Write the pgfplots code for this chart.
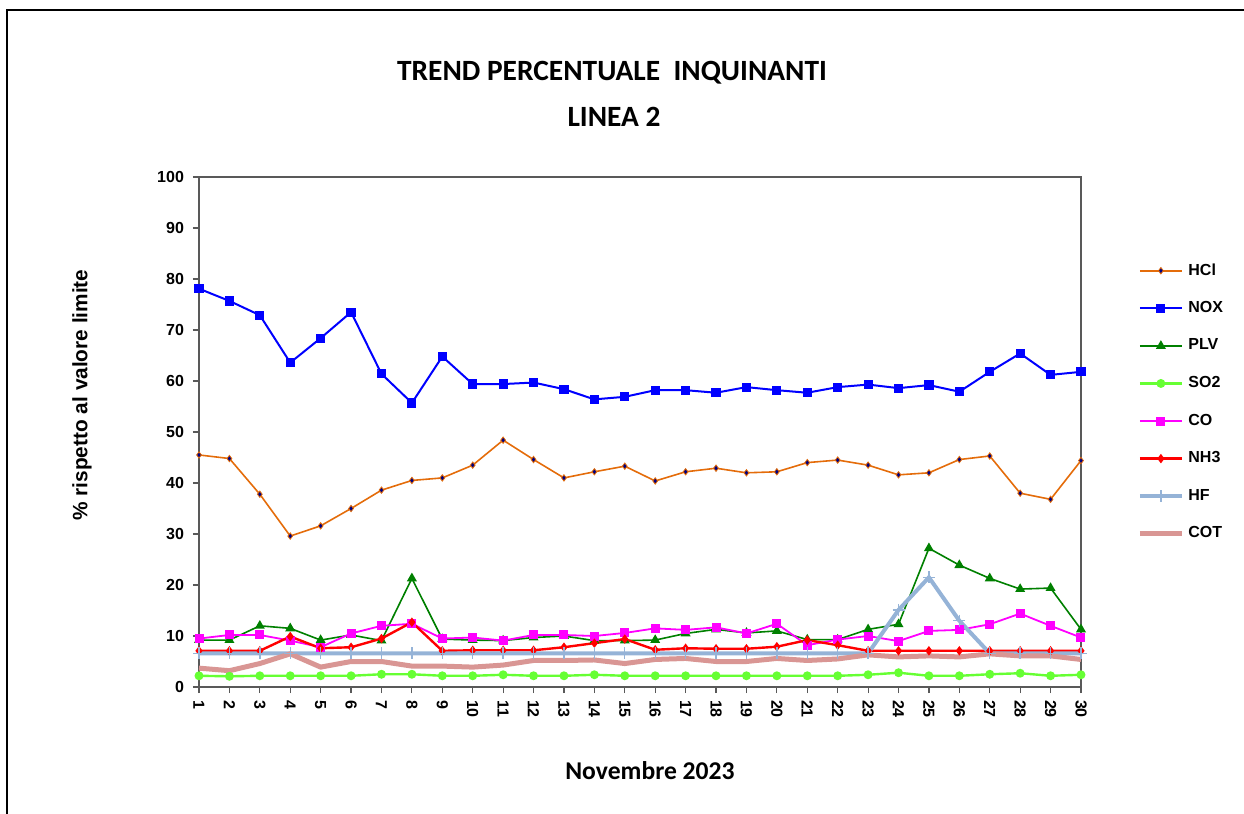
\documentclass[border=0pt]{standalone}
\usepackage{pgfplots}
\pgfplotsset{compat=1.18}
\usepackage{pgfplotstable}
\usepackage{fontspec}
\setmainfont{Liberation Sans}
\newfontfamily\calibri{Carlito}
\definecolor{cHCl}{RGB}{228,108,10}
\definecolor{cNOX}{RGB}{0,0,255}
\definecolor{cPLV}{RGB}{0,128,0}
\definecolor{cSO2}{RGB}{102,255,51}
\definecolor{cCO}{RGB}{255,0,255}
\definecolor{cNH3}{RGB}{255,0,0}
\definecolor{cHF}{RGB}{149,179,215}
\definecolor{cCOT}{RGB}{217,150,148}
\definecolor{navy}{RGB}{0,0,128}
\pgfplotstableread{
x hcl nox plv so2 co nh3 hf cot
1 45.5 78.1 9.2 2.2 9.5 7.1 6.6 3.7
2 44.8 75.7 9.2 2.1 10.2 7.1 6.6 3.2
3 37.8 72.9 12.0 2.2 10.2 7.1 6.6 4.6
4 29.6 63.6 11.5 2.2 9.1 9.9 6.6 6.5
5 31.6 68.4 9.2 2.2 7.8 7.6 6.6 3.9
6 35.0 73.5 10.2 2.2 10.5 7.8 6.6 5.0
7 38.6 61.4 9.1 2.5 12.0 9.5 6.6 5.0
8 40.5 55.7 21.3 2.5 12.4 12.7 6.6 4.1
9 41.0 64.8 9.4 2.2 9.5 7.1 6.6 4.1
10 43.5 59.4 9.2 2.2 9.7 7.2 6.6 3.9
11 48.4 59.4 9.1 2.4 9.1 7.2 6.6 4.3
12 44.6 59.7 9.7 2.2 10.2 7.2 6.6 5.2
13 41.0 58.4 10.0 2.2 10.2 7.8 6.6 5.2
14 42.2 56.4 9.1 2.4 10.0 8.6 6.6 5.3
15 43.3 56.9 9.1 2.2 10.6 9.4 6.6 4.6
16 40.4 58.2 9.2 2.2 11.5 7.3 6.6 5.4
17 42.2 58.2 10.5 2.2 11.2 7.6 6.6 5.6
18 42.9 57.7 11.3 2.2 11.7 7.5 6.6 5.0
19 42.0 58.8 10.6 2.2 10.5 7.5 6.6 5.0
20 42.2 58.2 11.0 2.2 12.4 7.9 6.6 5.6
21 44.0 57.7 9.3 2.2 8.2 9.2 6.6 5.2
22 44.5 58.8 9.3 2.2 9.3 8.2 6.6 5.5
23 43.5 59.3 11.3 2.4 10.0 7.1 6.6 6.3
24 41.6 58.6 12.3 2.8 9.0 7.1 15.1 5.9
25 42.0 59.2 27.2 2.2 11.0 7.1 21.5 6.1
26 44.6 57.9 23.9 2.2 11.2 7.1 13.0 5.9
27 45.3 61.8 21.3 2.5 12.3 7.1 6.6 6.5
28 38.0 65.4 19.2 2.7 14.4 7.1 6.6 6.1
29 36.8 61.2 19.4 2.2 12.0 7.1 6.6 6.1
30 44.4 61.8 11.3 2.4 9.7 7.1 6.6 5.4
}\datatable
\begin{document}
\begin{tikzpicture}
\useasboundingbox (0,0) rectangle (622pt,-407pt);
\draw[line width=1.1pt] (3.6pt,-407pt) -- (3.6pt,-5pt) -- (622pt,-5pt);
\node[font=\calibri\bfseries\fontsize{14.7}{17}\selectfont] at (306pt,-36.5pt) {TREND PERCENTUALE\ \ INQUINANTI};
\node[font=\calibri\bfseries\fontsize{14.7}{17}\selectfont] at (307pt,-58.5pt) {LINEA 2};
\node[font=\bfseries\fontsize{10.4}{12}\selectfont, rotate=90] at (41pt,-197.5pt) {\% rispetto al valore limite};
\node[font=\calibri\bfseries\fontsize{12.8}{15}\selectfont] at (325pt,-385.5pt) {Novembre 2023};
\begin{axis}[
  at={(99.5pt,-343.5pt)}, anchor=south west,
  scale only axis, width=441pt, height=255pt,
  xmin=1, xmax=30, ymin=0, ymax=100, clip=false,
  xtick={1,...,30}, ytick={0,10,...,100},
  axis line style={draw=black!65, line width=0.6pt},
  tick style={draw=black!65, line width=0.6pt},
  tick pos=left, tick align=outside, major tick length=3pt,
  /pgf/number format/assume math mode=true,
  ticklabel style={font=\bfseries\fontsize{8}{9}\selectfont},
  xticklabel style={rotate=-90, anchor=west, xshift=0pt},
  yticklabel style={xshift=-1pt},
  legend style={at={(1,1)}, anchor=north west, xshift=28pt, yshift=-41pt,
    draw=none, fill=none, font=\bfseries\fontsize{8}{9}\selectfont,
    row sep=7.7pt, inner sep=0pt},
  legend cell align=left,
  legend image code/.code={\draw[mark repeat=2,mark phase=2,#1] plot coordinates {(0pt,0pt) (10.5pt,0pt) (21pt,0pt)};},
]
\addplot[cHCl, line width=0.8pt, mark=diamond*, mark size=1.6pt, mark options={fill=navy, draw=cHCl, line width=0.4pt}] table[x=x,y=hcl]{\datatable};
\addlegendentry{HCl}
\addplot[cNOX, line width=1pt, mark=square*, mark size=1.8pt, mark options={fill=cNOX, draw=cNOX}] table[x=x,y=nox]{\datatable};
\addlegendentry{NOX}
\addplot[cPLV, line width=0.8pt, mark=triangle*, mark size=2.1pt, mark options={fill=cPLV, draw=cPLV}] table[x=x,y=plv]{\datatable};
\addlegendentry{PLV}
\addplot[cSO2, line width=1.2pt, mark=*, mark size=1.6pt, mark options={fill=cSO2, draw=cSO2}] table[x=x,y=so2]{\datatable};
\addlegendentry{SO2}
\addplot[cCO, line width=0.9pt, mark=square*, mark size=1.8pt, mark options={fill=cCO, draw=cCO}] table[x=x,y=co]{\datatable};
\addlegendentry{CO}
\addplot[cNH3, line width=1.2pt, mark=diamond*, mark size=1.4pt, mark options={fill=cNH3, draw=cNH3}] table[x=x,y=nh3]{\datatable};
\addlegendentry{NH3}
\addplot[cHF, line width=2pt, mark=+, mark size=3pt, mark options={draw=cHF, line width=0.7pt}] table[x=x,y=hf]{\datatable};
\addlegendentry{HF}
\addplot[cCOT, line width=2.5pt] table[x=x,y=cot]{\datatable};
\addlegendentry{COT}
\end{axis}
\end{tikzpicture}
\end{document}
